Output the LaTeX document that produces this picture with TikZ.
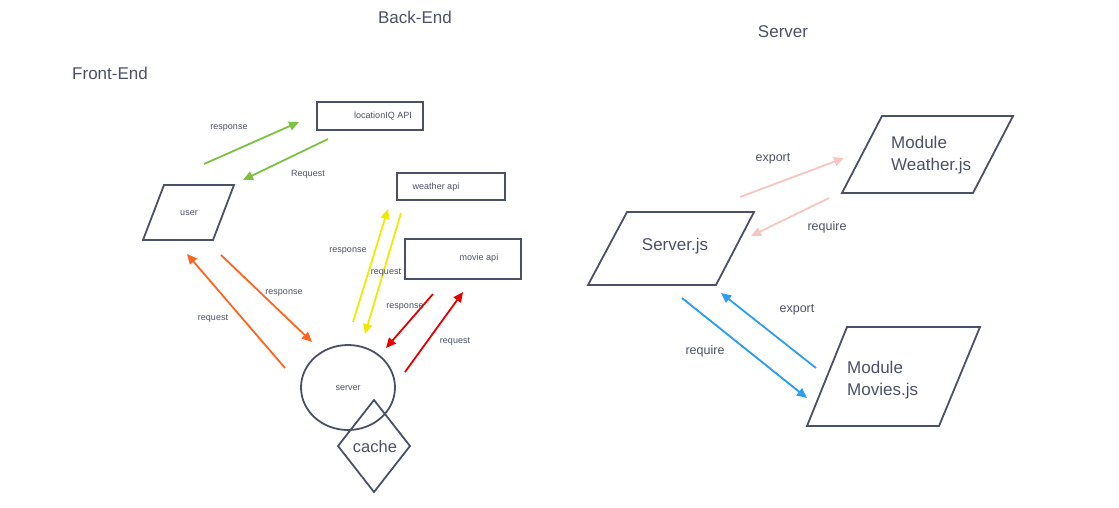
\documentclass[tikz,border=0pt]{standalone}
\usepackage{fontspec}
\setmainfont{Liberation Sans}
\usetikzlibrary{arrows.meta,shapes.geometric}
\definecolor{ink}{HTML}{4A5068}
\definecolor{cgreen}{HTML}{7CC242}
\definecolor{cyellow}{HTML}{F2EA00}
\definecolor{cred}{HTML}{E60000}
\definecolor{corange}{HTML}{FF6420}
\definecolor{cpink}{HTML}{F8C6C2}
\definecolor{cblue}{HTML}{2C9EF0}
\tikzset{
  shapeline/.style={draw=ink,line width=1.8pt,line join=miter},
  tiny/.style={text=ink,font=\fontsize{9}{10}\selectfont,inner sep=0pt},
  mid/.style={text=ink,font=\fontsize{12.5}{14}\selectfont,inner sep=0pt},
  big/.style={text=ink,font=\fontsize{17}{22}\selectfont,inner sep=0pt},
  conn/.style={line width=1.8pt,-{Triangle[length=10pt,width=9pt]}},
}
\begin{document}
\begin{tikzpicture}[x=1pt,y=-1pt]
\useasboundingbox (0,0) rectangle (1119,507);
% titles
\node[big] (tback) at (415,17) {Back-End};
\node[big] (tserver) at (783,32) {Server};
\node[big] (tfront) at (110,73) {Front-End};
% back-end boxes
\draw[shapeline] (317,102) rectangle (423,130);
\node[tiny] (loc) at (383,116) {locationIQ API};
\draw[shapeline] (397,173) rectangle (505,200);
\node[tiny] (weather) at (436,187) {weather api};
\draw[shapeline] (405,239) rectangle (521,279);
\node[tiny] (movie) at (479,258) {movie api};
% user
\draw[shapeline] (164,185) -- (234,185) -- (213,240) -- (143,240) -- cycle;
\node[tiny] (user) at (189,213) {user};
% server ellipse
\draw[shapeline] (348,387.5) ellipse [x radius=47,y radius=42.5];
\node[tiny] (server) at (348,388) {server};
% cache diamond
\draw[shapeline] (374,400) -- (410,446) -- (374,492) -- (338,446) -- cycle;
\node[big,font=\fontsize{16.5}{20}\selectfont] (cache) at (375,447) {cache};
% green
\coordinate (g1a) at (204,164); \coordinate (g1b) at (299,122);
\coordinate (g2a) at (328,139); \coordinate (g2b) at (243,180);
\draw[conn,cgreen] (g1a) -- (g1b);
\draw[conn,cgreen] (g2a) -- (g2b);
\node[tiny] (lg1) at (229,128) {response};
\node[tiny] (lg2) at (308,174) {Request};
% yellow
\coordinate (y1a) at (353,322); \coordinate (y1b) at (388,209);
\coordinate (y2a) at (401,213); \coordinate (y2b) at (365,334);
\draw[conn,cyellow] (y1a) -- (y1b);
\draw[conn,cyellow] (y2a) -- (y2b);
\node[tiny] (ly1) at (348,251) {response};
\node[tiny] (ly2) at (386,273) {request};
% red
\coordinate (r1a) at (433,294); \coordinate (r1b) at (386,348);
\coordinate (r2a) at (405,372); \coordinate (r2b) at (463,292);
\draw[conn,cred] (r1a) -- (r1b);
\draw[conn,cred] (r2a) -- (r2b);
\node[tiny] (lr1) at (405,307) {response};
\node[tiny] (lr2) at (455,342) {request};
% orange
\coordinate (o1a) at (285,368); \coordinate (o1b) at (187,254);
\coordinate (o2a) at (221,255); \coordinate (o2b) at (312,342);
\draw[conn,corange] (o1a) -- (o1b);
\draw[conn,corange] (o2a) -- (o2b);
\node[tiny] (lo1) at (284,293) {response};
\node[tiny] (lo2) at (213,319) {request};
% Server.js
\draw[shapeline] (627,212) -- (754,212) -- (716,285) -- (588,285) -- cycle;
\node[big] (serverjs) at (675,246) {Server.js};
% Module Weather.js
\draw[shapeline] (882,116) -- (1013,116) -- (973,193) -- (842,193) -- cycle;
\node[big,align=left,anchor=west,font=\fontsize{17}{22}\selectfont] (modw) at (891,155.5) {Module\\Weather.js};
% Module Movies.js
\draw[shapeline] (847,327) -- (980,327) -- (939,426) -- (807,426) -- cycle;
\node[big,align=left,anchor=west,font=\fontsize{17}{22}\selectfont] (modm) at (847,380) {Module\\Movies.js};
% pink
\coordinate (p1a) at (740,197); \coordinate (p1b) at (844,158);
\coordinate (p2a) at (829,198); \coordinate (p2b) at (751,236);
\draw[conn,cpink] (p1a) -- (p1b);
\draw[conn,cpink] (p2a) -- (p2b);
\node[mid] (lp1) at (773,159) {export};
\node[mid] (lp2) at (827,227) {require};
% blue
\coordinate (b1a) at (682,298); \coordinate (b1b) at (807,398);
\coordinate (b2a) at (816,368); \coordinate (b2b) at (721,293);
\draw[conn,cblue] (b1a) -- (b1b);
\draw[conn,cblue] (b2a) -- (b2b);
\node[mid] (lb1) at (705,351) {require};
\node[mid] (lb2) at (797,310) {export};
\end{tikzpicture}
\end{document}
